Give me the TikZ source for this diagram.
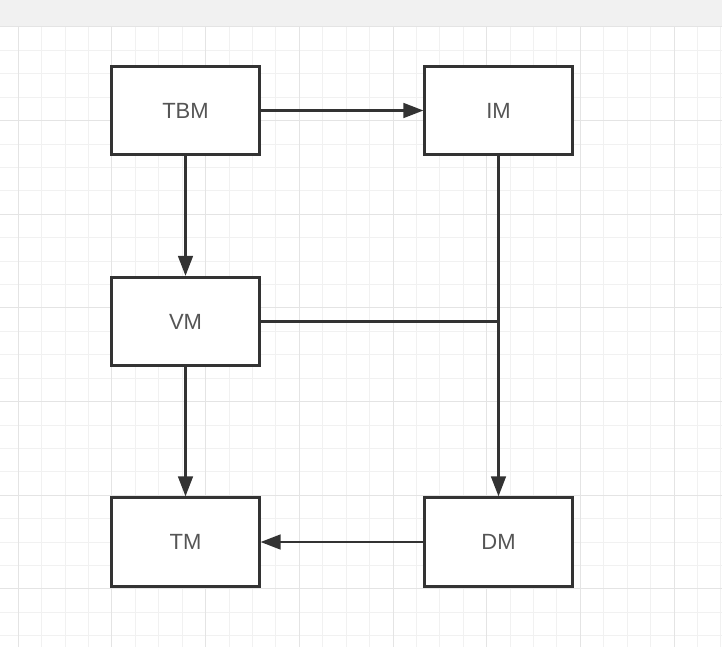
\documentclass[tikz,border=0pt]{standalone}
\usepackage{fontspec}
\setmainfont{Liberation Sans}
\usetikzlibrary{arrows.meta,positioning}

\tikzset{every picture/.style={line width=0.75pt}}

\begin{document}
\begin{tikzpicture}[x=0.75pt,y=0.75pt,yscale=-1,xscale=1,
	modbox/.style={draw={rgb, 255:red, 51; green, 51; blue, 51 }, line width=2pt, fill=white, minimum width=110.6pt, minimum height=66.4pt, inner sep=0pt, font=\fontsize{16.5}{18}\selectfont, text={rgb, 255:red, 85; green, 85; blue, 85 }},
	link/.style={draw={rgb, 255:red, 51; green, 51; blue, 51 }, line width=1.9pt},
	linkarrow/.style={link, -{Triangle[length=15pt,width=11pt]}}]
	%set diagram size 722 x 647
	\useasboundingbox (0,0) rectangle (722,647);
	
	%Top bar
	\fill [color={rgb, 255:red, 241; green, 241; blue, 241 }] (0,0) rectangle (722,26.9);
	%Grid
	\foreach \i in {0,...,30}
		\draw [color={rgb, 255:red, 241; green, 241; blue, 241 }] (18.3+23.42*\i,26.9) -- (18.3+23.42*\i,647);
	\foreach \j in {0,...,26}
		\draw [color={rgb, 255:red, 241; green, 241; blue, 241 }] (0,26.9+23.42*\j) -- (722,26.9+23.42*\j);
	\foreach \i in {0,...,7}
		\draw [color={rgb, 255:red, 228; green, 228; blue, 228 }] (18.3+93.68*\i,26.9) -- (18.3+93.68*\i,647);
	\foreach \j in {0,...,6}
		\draw [color={rgb, 255:red, 228; green, 228; blue, 228 }] (0,26.9+93.68*\j) -- (722,26.9+93.68*\j);
	
	%Shape: Rectangle [id:tbm]
	\node [modbox] (tbm) at (185.5,110.5) {TBM};
	%Shape: Rectangle [id:im]
	\node [modbox] (im) at (498.5,110.5) {IM};
	%Shape: Rectangle [id:vm]
	\node [modbox] (vm) at (185.5,321.5) {VM};
	%Shape: Rectangle [id:tm]
	\node [modbox] (tm) at (185.5,542) {TM};
	%Shape: Rectangle [id:dm]
	\node [modbox] (dm) at (498.5,542) {DM};
	
	\coordinate (join) at (vm.east -| im.south);
	
	\draw [linkarrow] (tbm) -- (im);
	\draw [linkarrow] (tbm) -- (vm);
	\draw [linkarrow] (vm) -- (tm);
	\draw [linkarrow] (im) -- (dm);
	\draw [linkarrow] (dm) -- (tm);
	\draw [link] (vm.east) -- (join);
	
\end{tikzpicture}
\end{document}
